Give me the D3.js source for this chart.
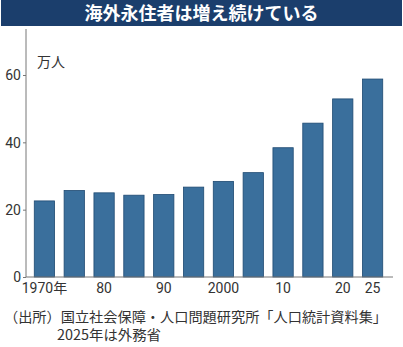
<!DOCTYPE html>
<html lang="ja">
<head>
<meta charset="UTF-8">
<title>海外永住者は増え続けている</title>
<script src="https://d3js.org/d3.v7.min.js"></script>
<style>
  html, body { margin: 0; padding: 0; background: #fff; }
  svg { display: block; font-family: "Noto Sans CJK JP", "Noto Sans", sans-serif; }
</style>
</head>
<body>
<div id="chart"></div>
<script>
  // data (万人)
  const years = ["1970", "1975", "1980", "1985", "1990", "1995", "2000", "2005", "2010", "2015", "2020", "2025"];
  const residents = [22.6, 25.7, 25.0, 24.3, 24.5, 26.7, 28.4, 31.0, 38.4, 45.7, 52.9, 58.8];
  const xTickLabels = { "1970": "1970年", "1980": "80", "1990": "90", "2000": "2000", "2010": "10", "2020": "20", "2025": "25" };
  const yTicks = [0, 20, 40, 60];

  const W = 403, H = 347;
  const svg = d3.select("#chart").append("svg")
    .attr("width", W)
    .attr("height", H);

  // title bar
  svg.append("rect")
    .attr("x", 1).attr("y", 0)
    .attr("width", W - 2).attr("height", 26)
    .attr("fill", "#1b3e6c");
  svg.append("text")
    .attr("x", W / 2).attr("y", 20)
    .attr("text-anchor", "middle")
    .attr("fill", "#fff")
    .attr("font-size", 18)
    .attr("font-weight", "bold")
    .text("海外永住者は増え続けている");

  const x = d3.scaleBand()
    .domain(years)
    .range([29.5, 387.5])
    .paddingInner(0.32)
    .paddingOuter(0.16);

  const y = d3.scaleLinear()
    .domain([0, 60])
    .range([277, 75]);

  // bars
  svg.selectAll(".bar")
    .data(years)
    .enter()
    .append("rect")
    .attr("class", "bar")
    .attr("x", d => x(d))
    .attr("y", (d, i) => y(residents[i]))
    .attr("width", x.bandwidth())
    .attr("height", (d, i) => y(0) - y(residents[i]))
    .attr("fill", "#3a6f9c")
    .attr("stroke", "#1f4a72")
    .attr("stroke-width", 0.8);

  // y axis
  const yAxis = svg.append("g")
    .attr("transform", "translate(26,0)")
    .call(d3.axisLeft(y).tickValues(yTicks).tickSize(3).tickPadding(2));
  yAxis.select(".domain").remove();
  yAxis.selectAll("line").attr("stroke", "#777");
  yAxis.selectAll("text")
    .attr("font-size", 14)
    .attr("fill", "#333")
    .attr("font-family", "Roboto, sans-serif")
    .attr("dy", "0.35em");
  svg.append("line")
    .attr("x1", 26).attr("x2", 26)
    .attr("y1", 29).attr("y2", 277)
    .attr("stroke", "#777");

  // x axis
  const xAxis = svg.append("g")
    .attr("transform", "translate(0,277)")
    .call(d3.axisBottom(x).tickValues(Object.keys(xTickLabels)).tickFormat(d => xTickLabels[d]).tickSize(0).tickPadding(6));
  xAxis.select(".domain").remove();
  xAxis.selectAll("text")
    .attr("font-size", 14)
    .attr("fill", "#333")
    .attr("font-family", "Roboto, 'Noto Sans CJK JP', sans-serif");
  svg.append("line")
    .attr("x1", 26).attr("x2", 393)
    .attr("y1", 277).attr("y2", 277)
    .attr("stroke", "#777");

  // unit
  svg.append("text")
    .attr("x", 37).attr("y", 67)
    .attr("font-size", 14)
    .attr("fill", "#333")
    .text("万人");

  // source
  svg.append("text")
    .attr("x", 4).attr("y", 322)
    .attr("font-size", 14)
    .attr("fill", "#333")
    .attr("textLength", 383)
    .attr("lengthAdjust", "spacingAndGlyphs")
    .text("（出所）国立社会保障・人口問題研究所「人口統計資料集」");
  svg.append("text")
    .attr("x", 57).attr("y", 340)
    .attr("font-size", 14)
    .attr("fill", "#333")
    .attr("textLength", 104)
    .attr("lengthAdjust", "spacingAndGlyphs")
    .text("2025年は外務省");
</script>
</body>
</html>
